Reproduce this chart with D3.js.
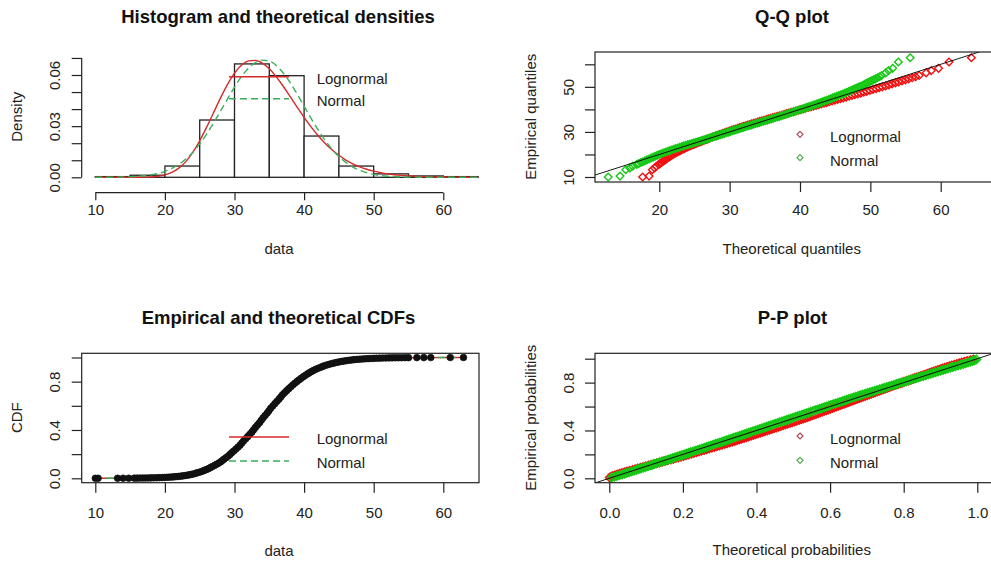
<!DOCTYPE html>
<html>
<head>
<meta charset="utf-8">
<script src="https://cdn.jsdelivr.net/npm/d3@7"></script>
<style>
  html, body { margin: 0; padding: 0; background: #fff; overflow: hidden; }
  svg { display: block; }
</style>
</head>
<body>
<svg id="chart" width="991" height="562"></svg>
<script>
// ---------------- data ----------------
const seriesNames = ["Lognormal", "Normal"];

// histogram of the sample (density scale)
const binEdges   = [10, 15, 20, 25, 30, 35, 40, 45, 50, 55, 60, 65];
const binDensity = [0.0004, 0.0012, 0.0066, 0.0336, 0.0665, 0.0596, 0.0242, 0.0066, 0.0020, 0.0008, 0.0004];

// fitted densities evaluated on a 1-unit grid
const densX = [10,11,12,13,14,15,16,17,18,19,20,21,22,23,24,25,26,27,28,29,30,31,32,33,34,35,36,37,
               38,39,40,41,42,43,44,45,46,47,48,49,50,51,52,53,54,55,56,57,58,59,60,61,62,63,64,65];
const densLnorm = [0,0,0,0,0,0,0,0.0001,0.0002,0.0006,0.0014,0.0029,0.0054,0.0092,0.0146,0.0214,0.0294,
                   0.0380,0.0466,0.0545,0.0611,0.0657,0.0683,0.0686,0.0670,0.0636,0.0589,0.0534,0.0473,
                   0.0412,0.0352,0.0296,0.0245,0.0200,0.0162,0.0129,0.0101,0.0079,0.0061,0.0047,0.0036,
                   0.0027,0.0020,0.0015,0.0011,0.0008,0.0006,0.0004,0.0003,0.0002,0.0002,0.0001,0.0001,
                   0.0001,0,0];
const densNorm = [0,0,0,0.0001,0.0002,0.0003,0.0005,0.0009,0.0014,0.0022,0.0034,0.0052,0.0075,0.0107,
                  0.0146,0.0196,0.0253,0.0319,0.0389,0.0460,0.0529,0.0591,0.0640,0.0673,0.0687,0.0681,
                  0.0656,0.0612,0.0555,0.0488,0.0417,0.0346,0.0279,0.0218,0.0165,0.0122,0.0087,0.0060,
                  0.0041,0.0027,0.0017,0.0010,0.0006,0.0004,0.0002,0.0001,0.0001,0,0,0,0,0,0,0,0,0];

// sorted sample (empirical quantiles) with their plotting probabilities
const empQ = [10.0,10.4,13.2,14.0,14.8,15.6,
  16.0,16.4,16.8,17.2,17.6,18.0,18.4,18.8,19.2,19.6,19.95,20.3,20.65,21.0,21.3,21.6,21.95,22.3,22.6,22.9,
  23.2,23.5,23.8,24.1,24.35,24.6,24.9,25.2,25.45,25.7,26.0,26.3,26.55,26.8,27.1,27.4,27.7,28.0,28.25,28.5,
  28.8,29.1,29.35,29.6,29.9,30.2,30.5,30.8,31.05,31.3,31.6,31.9,32.2,32.5,32.75,33.0,33.3,33.6,33.85,34.1,
  34.4,34.7,34.95,35.2,35.5,35.8,36.1,36.4,36.65,36.9,37.2,37.5,37.8,38.1,38.4,38.7,39.0,39.3,39.6,39.9,
  40.2,40.5,40.8,41.1,41.4,41.7,42.05,42.4,42.7,43.0,43.35,43.7,44.05,44.4,44.75,45.1,45.45,45.8,46.15,46.5,
  46.85,47.2,47.6,48.0,48.4,48.8,49.2,49.6,50.0,50.4,50.85,51.3,51.75,52.2,52.65,53.1,53.55,54.0,54.5,
  55.0,56.2,57.2,58.2,61.0,62.9];
const empProb = [0.0001,0.0003,0.0005,0.0008,0.0010,0.0013,
  0.0016,0.0019,0.0022,0.0026,0.0030,0.0035,0.0040,0.0047,0.0054,0.0062,0.0071,0.0082,0.0094,0.0107,
  0.0122,0.0139,0.0158,0.0179,0.0202,0.0228,0.0256,0.0287,0.0322,0.0359,0.0401,0.0446,0.0495,0.0548,
  0.0606,0.0668,0.0735,0.0808,0.0885,0.0968,0.1056,0.1151,0.1251,0.1357,0.1469,0.1587,0.1711,0.1841,
  0.1977,0.2119,0.2266,0.2420,0.2578,0.2743,0.2912,0.3085,0.3264,0.3446,0.3632,0.3821,0.4013,0.4207,
  0.4404,0.4602,0.4801,0.5000,
  0.5199,0.5398,0.5596,0.5793,0.5987,0.6179,0.6368,0.6554,0.6736,0.6915,0.7088,0.7257,0.7422,0.7580,
  0.7734,0.7881,0.8023,0.8159,0.8289,0.8413,0.8531,0.8643,0.8749,0.8849,0.8944,0.9032,0.9115,0.9192,
  0.9265,0.9332,0.9394,0.9452,0.9505,0.9554,0.9599,0.9641,0.9678,0.9713,0.9744,0.9772,0.9798,0.9821,
  0.9842,0.9861,0.9878,0.9893,0.9906,0.9918,0.9929,0.9938,0.9946,0.9953,0.9960,0.9965,0.9970,0.9974,
  0.9978,0.9981,0.9984,
  0.9987,0.9990,0.9992,0.9995,0.9997,0.9999];

// theoretical quantiles matching each empirical quantile
const qqLnorm = [17.63,18.55,19.01,19.34,19.58,19.93,
  20.10,20.28,20.46,20.64,20.82,21.00,21.18,21.37,21.56,21.75,21.94,22.13,22.32,22.52,22.72,22.92,23.12,
  23.33,23.53,23.74,23.95,24.16,24.37,24.58,24.80,25.02,25.24,25.46,25.68,25.91,26.14,26.37,26.60,26.83,
  27.06,27.30,27.54,27.79,28.03,28.28,28.53,28.78,29.03,29.28,29.54,29.80,30.06,30.33,30.59,30.86,31.13,
  31.41,31.68,31.96,32.24,32.53,32.81,33.10,33.39,33.68,33.98,34.28,34.58,34.88,35.19,35.50,35.81,36.13,
  36.44,36.76,37.08,37.41,37.74,38.07,38.41,38.75,39.09,39.43,39.78,40.13,40.48,40.83,41.19,41.55,41.92,
  42.29,42.66,43.03,43.41,43.79,44.18,44.57,44.96,45.35,45.75,46.16,46.56,46.97,47.38,47.80,48.22,48.64,
  49.07,49.50,49.94,50.38,50.82,51.26,51.71,52.17,52.63,53.09,53.56,54.03,54.50,54.98,55.46,55.95,56.44,
  56.94,57.94,58.66,59.70,61.18,64.36];
const qqNorm = [12.74,14.42,15.23,15.81,16.22,16.80,
  17.09,17.38,17.67,17.96,18.25,18.54,18.83,19.12,19.41,19.70,19.99,20.28,20.57,20.86,21.15,21.44,21.73,
  22.02,22.31,22.60,22.89,23.18,23.47,23.76,24.05,24.34,24.63,24.92,25.21,25.50,25.79,26.08,26.37,26.66,
  26.95,27.24,27.53,27.82,28.11,28.40,28.69,28.98,29.27,29.56,29.85,30.14,30.43,30.72,31.01,31.30,31.59,
  31.88,32.17,32.46,32.75,33.04,33.33,33.62,33.91,34.20,34.49,34.78,35.07,35.36,35.65,35.94,36.23,36.52,
  36.81,37.10,37.39,37.68,37.97,38.26,38.55,38.84,39.13,39.42,39.71,40.00,40.29,40.58,40.87,41.16,41.45,
  41.74,42.03,42.32,42.61,42.90,43.19,43.48,43.77,44.06,44.35,44.64,44.93,45.22,45.51,45.80,46.09,46.38,
  46.67,46.96,47.25,47.54,47.83,48.12,48.41,48.70,48.99,49.28,49.57,49.86,50.15,50.44,50.73,51.02,51.31,
  51.60,52.18,52.59,53.17,53.98,55.66];

// fitted CDFs on a 2-unit grid
const cdfX     = [10,12,14,16,18,20,22,24,26,28,30,32,34,36,38,40,42,44,46,48,50,52,54,56,58,60,62,63];
const cdfLnorm = [0,0,0,0,0.0002,0.0014,0.0075,0.0264,0.0696,0.1455,0.2540,0.3848,0.5215,0.6480,0.7546,
                  0.8370,0.8964,0.9366,0.9625,0.9785,0.9880,0.9934,0.9965,0.9982,0.9990,0.9995,0.9998,0.9999];
const cdfNorm  = [0,0.0001,0.0003,0.0008,0.0026,0.0071,0.0179,0.0392,0.0793,0.1423,0.2345,0.3523,0.4864,
                  0.6217,0.7438,0.8413,0.9106,0.9545,0.9789,0.9913,0.9967,0.9989,0.9997,0.9999,1,1,1,1];

// P-P plot: empirical probabilities against fitted probabilities
const ppEmp = [0.0063,0.0125,0.0188,0.0250,0.0313,0.0375,0.0438,0.0500,0.0563,0.0625,0.0688,0.0750,
  0.0813,0.0875,0.0938,0.1000,0.1063,0.1125,0.1188,0.1250,0.1313,0.1375,0.1438,0.1500,0.1563,0.1625,
  0.1688,0.1750,0.1813,0.1875,0.1938,0.2000,0.2063,0.2125,0.2188,0.2250,0.2313,0.2375,0.2438,0.2500,
  0.2563,0.2625,0.2688,0.2750,0.2813,0.2875,0.2938,0.3000,0.3063,0.3125,0.3188,0.3250,0.3313,0.3375,
  0.3438,0.3500,0.3563,0.3625,0.3688,0.3750,0.3813,0.3875,0.3938,0.4000,0.4063,0.4125,0.4188,0.4250,
  0.4313,0.4375,0.4438,0.4500,0.4563,0.4625,0.4688,0.4750,0.4813,0.4875,0.4938,0.5000,0.5063,0.5125,
  0.5188,0.5250,0.5313,0.5375,0.5438,0.5500,0.5563,0.5625,0.5688,0.5750,0.5813,0.5875,0.5938,0.6000,
  0.6063,0.6125,0.6188,0.6250,0.6313,0.6375,0.6438,0.6500,0.6563,0.6625,0.6688,0.6750,0.6813,0.6875,
  0.6938,0.7000,0.7063,0.7125,0.7188,0.7250,0.7313,0.7375,0.7438,0.7500,0.7563,0.7625,0.7688,0.7750,
  0.7813,0.7875,0.7938,0.8000,0.8063,0.8125,0.8188,0.8250,0.8313,0.8375,0.8438,0.8500,0.8563,0.8625,
  0.8688,0.8750,0.8813,0.8875,0.8938,0.9000,0.9063,0.9125,0.9188,0.9250,0.9313,0.9375,0.9438,0.9500,
  0.9563,0.9625,0.9688,0.9750,0.9813,0.9875,0.9938];
const ppLnorm = [0.0010,0.0053,0.0095,0.0155,0.0215,0.0279,0.0343,0.0411,0.0479,0.0555,0.0631,0.0702,
  0.0772,0.0844,0.0916,0.0990,0.1063,0.1138,0.1212,0.1287,0.1362,0.1438,0.1513,0.1591,0.1668,0.1738,
  0.1808,0.1878,0.1948,0.2018,0.2087,0.2157,0.2227,0.2297,0.2366,0.2436,0.2506,0.2576,0.2646,0.2716,
  0.2785,0.2855,0.2925,0.2995,0.3064,0.3133,0.3202,0.3272,0.3341,0.3406,0.3471,0.3535,0.3598,0.3661,
  0.3724,0.3788,0.3851,0.3914,0.3977,0.4040,0.4102,0.4165,0.4228,0.4290,0.4352,0.4415,0.4477,0.4539,
  0.4601,0.4663,0.4725,0.4787,0.4849,0.4911,0.4972,0.5034,0.5095,0.5157,0.5218,0.5277,0.5335,0.5392,
  0.5448,0.5505,0.5561,0.5617,0.5672,0.5728,0.5784,0.5840,0.5896,0.5952,0.6008,0.6064,0.6119,0.6175,
  0.6230,0.6286,0.6342,0.6398,0.6453,0.6509,0.6564,0.6620,0.6675,0.6731,0.6786,0.6842,0.6897,0.6953,
  0.7009,0.7064,0.7119,0.7175,0.7230,0.7286,0.7341,0.7397,0.7452,0.7508,0.7564,0.7620,0.7676,0.7732,
  0.7788,0.7845,0.7901,0.7958,0.8014,0.8071,0.8128,0.8186,0.8243,0.8300,0.8357,0.8413,0.8469,0.8526,
  0.8582,0.8640,0.8697,0.8755,0.8813,0.8873,0.8932,0.8992,0.9052,0.9115,0.9177,0.9243,0.9308,0.9377,
  0.9445,0.9509,0.9573,0.9649,0.9724,0.9809,0.9893];
const ppNorm = [0.0060,0.0134,0.0207,0.0277,0.0347,0.0412,0.0477,0.0541,0.0604,0.0668,0.0732,0.0795,
  0.0858,0.0921,0.0984,0.1047,0.1109,0.1172,0.1234,0.1296,0.1357,0.1419,0.1481,0.1543,0.1604,0.1666,
  0.1727,0.1788,0.1849,0.1911,0.1972,0.2033,0.2094,0.2155,0.2215,0.2276,0.2337,0.2398,0.2458,0.2519,
  0.2580,0.2640,0.2700,0.2761,0.2822,0.2883,0.2943,0.3004,0.3065,0.3125,0.3184,0.3245,0.3305,0.3365,
  0.3425,0.3486,0.3546,0.3606,0.3666,0.3727,0.3787,0.3847,0.3907,0.3968,0.4028,0.4088,0.4148,0.4209,
  0.4269,0.4329,0.4389,0.4450,0.4510,0.4571,0.4631,0.4691,0.4751,0.4812,0.4872,0.4933,0.4993,0.5053,
  0.5113,0.5174,0.5234,0.5295,0.5355,0.5416,0.5476,0.5537,0.5597,0.5658,0.5719,0.5780,0.5840,0.5901,
  0.5962,0.6023,0.6083,0.6144,0.6205,0.6267,0.6328,0.6389,0.6450,0.6511,0.6572,0.6634,0.6695,0.6757,
  0.6819,0.6885,0.6951,0.7017,0.7082,0.7148,0.7213,0.7279,0.7345,0.7411,0.7477,0.7543,0.7608,0.7674,
  0.7740,0.7806,0.7872,0.7938,0.8003,0.8069,0.8135,0.8201,0.8266,0.8332,0.8398,0.8466,0.8534,0.8602,
  0.8669,0.8736,0.8803,0.8870,0.8937,0.9004,0.9070,0.9137,0.9203,0.9269,0.9334,0.9406,0.9477,0.9548,
  0.9619,0.9683,0.9747,0.9809,0.9871,0.9922,0.9973];

// axis ticks
const dataTicks   = [10, 20, 30, 40, 50, 60];
const densTicks   = [0, 0.01, 0.02, 0.03, 0.04, 0.05, 0.06, 0.07];
const densLabels  = [0, 0.03, 0.06];
const qqXTicks    = [20, 30, 40, 50, 60];
const qqYTicks    = [10, 20, 30, 40, 50, 60];
const qqYLabels   = [10, 30, 50];
const probTicks   = [0, 0.2, 0.4, 0.6, 0.8, 1];
const probLabels  = [0, 0.4, 0.8];

// ---------------- styling ----------------
const FONT = '"Liberation Sans", Arial, Helvetica, sans-serif';
const INK = "#222";
const RED_PT = "#f01010", GREEN_PT = "#14c814";
const RED_KEY = "#b44a5a", GREEN_KEY = "#4fae4f";
const RED_LN = "#d42a2a", GREEN_LN = "#3aae5a";

const svg = d3.select("#chart").attr("font-family", FONT);

function title(txt, x, y) {
  svg.append("text").attr("x", x).attr("y", y).attr("text-anchor", "middle")
    .attr("font-size", 18.5).attr("font-weight", "bold").attr("fill", "#111").text(txt);
}
function xTitle(txt, x, y) {
  svg.append("text").attr("x", x).attr("y", y).attr("text-anchor", "middle")
    .attr("dominant-baseline", "central").attr("font-size", 15).attr("fill", INK).text(txt);
}
function yTitle(txt, x, y) {
  svg.append("text").attr("transform", `translate(${x},${y}) rotate(-90)`).attr("text-anchor", "middle")
    .attr("dominant-baseline", "central").attr("font-size", 15).attr("fill", INK).text(txt);
}
function bottomAxis(scale, ticks, labels, fmt, y0, len, labelY, withLine) {
  const g = svg.append("g").attr("transform", `translate(0,${y0})`)
    .call(d3.axisBottom(scale).tickValues(ticks).tickSize(len).tickSizeOuter(0)
      .tickFormat(d => labels.some(v => Math.abs(v - d) < 1e-9) ? fmt(d) : ""));
  g.attr("font-family", FONT).attr("font-size", 15).attr("color", INK);
  g.select(".domain").remove();
  if (withLine) {
    g.append("line").attr("x1", scale(ticks[0])).attr("x2", scale(ticks[ticks.length - 1]))
      .attr("stroke", INK).attr("stroke-width", 1.2);
  }
  g.selectAll(".tick line").attr("stroke-width", 1.2);
  g.selectAll(".tick text").attr("y", labelY - y0).attr("dy", "0.35em");
}
function leftAxis(scale, ticks, labels, fmt, x0, len, labelX, withLine) {
  const g = svg.append("g").attr("transform", `translate(${x0},0)`)
    .call(d3.axisLeft(scale).tickValues(ticks).tickSize(len).tickSizeOuter(0)
      .tickFormat(d => labels.some(v => Math.abs(v - d) < 1e-9) ? fmt(d) : ""));
  g.attr("font-family", FONT).attr("font-size", 15).attr("color", INK);
  g.select(".domain").remove();
  if (withLine) {
    g.append("line").attr("y1", scale(ticks[0])).attr("y2", scale(ticks[ticks.length - 1]))
      .attr("stroke", INK).attr("stroke-width", 1.2);
  }
  g.selectAll(".tick line").attr("stroke-width", 1.2);
  g.selectAll(".tick text").attr("x", null).attr("dy", null)
    .attr("transform", `translate(${labelX - x0},0) rotate(-90)`)
    .attr("text-anchor", "middle").attr("dominant-baseline", "central");
}
function frame(x0, y0, x1, y1) {
  svg.append("rect").attr("x", x0).attr("y", y0).attr("width", x1 - x0).attr("height", y1 - y0)
    .attr("fill", "none").attr("stroke", INK).attr("stroke-width", 1.2);
}
function clip(id, x0, y0, x1, y1) {
  svg.append("clipPath").attr("id", id).append("rect")
    .attr("x", x0).attr("y", y0).attr("width", x1 - x0).attr("height", y1 - y0);
  return `url(#${id})`;
}
const diamond = r => `M0,${-r}L${r},0L0,${r}L${-r},0Z`;

function lineLegend(x1, x2, xt, rows) {
  rows.forEach(r => {
    svg.append("line").attr("x1", x1).attr("x2", x2).attr("y1", r.y).attr("y2", r.y)
      .attr("stroke", r.color).attr("stroke-width", 1.4).attr("stroke-dasharray", r.dash || null);
    svg.append("text").attr("x", xt).attr("y", r.y + 1.5).attr("dominant-baseline", "central")
      .attr("font-size", 15).attr("fill", INK).text(r.label);
  });
}
function pointLegend(xs, xt, rows) {
  rows.forEach(r => {
    svg.append("path").attr("d", diamond(3)).attr("transform", `translate(${xs},${r.y})`)
      .attr("fill", "none").attr("stroke", r.color).attr("stroke-width", 1.2);
    svg.append("text").attr("x", xt).attr("y", r.y + 2.5).attr("dominant-baseline", "central")
      .attr("font-size", 15).attr("fill", INK).text(r.label);
  });
}

// ---------------- panel 1: histogram and densities ----------------
{
  const x = d3.scaleLinear().domain([10, 60]).range([95.3, 443.3]);
  const y = d3.scaleLinear().domain([0, 0.06]).range([177.3, 75]);

  svg.append("g").selectAll("rect").data(binDensity).join("rect")
    .attr("x", (d, i) => x(binEdges[i])).attr("width", (d, i) => x(binEdges[i + 1]) - x(binEdges[i]))
    .attr("y", d => y(d)).attr("height", d => y(0) - y(d))
    .attr("fill", "#fff").attr("stroke", INK).attr("stroke-width", 1.3);

  const line = d3.line().x(d => x(d[0])).y(d => y(d[1])).curve(d3.curveMonotoneX);
  svg.append("path").attr("d", line(densX.map((v, i) => [v, densLnorm[i]])))
    .attr("fill", "none").attr("stroke", RED_LN).attr("stroke-width", 1.4);
  svg.append("path").attr("d", line(densX.map((v, i) => [v, densNorm[i]])))
    .attr("fill", "none").attr("stroke", GREEN_LN).attr("stroke-width", 1.4).attr("stroke-dasharray", "7,4");

  bottomAxis(x, dataTicks, dataTicks, d3.format("d"), 192.7, 7.5, 210, true);
  leftAxis(y, densTicks, densLabels, d3.format(".2f"), 81.7, 10, 55, true);

  lineLegend(229, 289, 316.7, [
    { y: 76.7, color: RED_LN, label: seriesNames[0] },
    { y: 98.7, color: GREEN_LN, label: seriesNames[1], dash: "7,4" }
  ]);
  title("Histogram and theoretical densities", 278, 23.3);
  xTitle("data", 279, 248.3);
  yTitle("Density", 16.7, 116.7);
}

// ---------------- panel 2: Q-Q plot ----------------
{
  const x = d3.scaleLinear().domain([20, 60]).range([659.3, 940.7]);
  const y = d3.scaleLinear().domain([10, 60]).range([177, 64.3]);
  const box = [595, 52, 992, 182];
  const cp = clip("qqclip", ...box);
  const g = svg.append("g").attr("clip-path", cp);

  const xs = x.invert(box[0]), xe = x.invert(box[2]);

  [[qqLnorm, RED_PT], [qqNorm, GREEN_PT]].forEach(([q, col]) => {
    g.append("g").selectAll("path").data(empQ).join("path")
      .attr("d", diamond(3.8)).attr("transform", (d, i) => `translate(${x(q[i])},${y(d)})`)
      .attr("fill", "none").attr("stroke", col).attr("stroke-width", 1.4);
  });
  // identity line drawn over the points
  g.append("line").attr("x1", x(xs)).attr("y1", y(xs)).attr("x2", x(xe)).attr("y2", y(xe))
    .attr("stroke", "#000").attr("stroke-width", 0.9);

  frame(...box);
  bottomAxis(x, qqXTicks, qqXTicks, d3.format("d"), 182, 10, 210, false);
  leftAxis(y, qqYTicks, qqYLabels, d3.format("d"), 595, 10, 568.3, false);

  pointLegend(800, 830, [
    { y: 134.3, color: RED_KEY, label: seriesNames[0] },
    { y: 157.7, color: GREEN_KEY, label: seriesNames[1] }
  ]);
  title("Q-Q plot", 792, 23.3);
  xTitle("Theoretical quantiles", 791.7, 248.3);
  yTitle("Empirical quantiles", 530, 116.7);
}

// ---------------- panel 3: empirical and theoretical CDFs ----------------
{
  const x = d3.scaleLinear().domain([10, 60]).range([95.3, 443.3]);
  const y = d3.scaleLinear().domain([0, 1]).range([478.3, 357.5]);
  const box = [81.7, 353.3, 479, 482.7];
  const cp = clip("cdfclip", ...box);
  const g = svg.append("g").attr("clip-path", cp);

  const line = d3.line().x(d => x(d[0])).y(d => y(d[1])).curve(d3.curveMonotoneX);
  g.append("path").attr("d", line(cdfX.map((v, i) => [v, cdfLnorm[i]])))
    .attr("fill", "none").attr("stroke", RED_LN).attr("stroke-width", 1.4);
  g.append("path").attr("d", line(cdfX.map((v, i) => [v, cdfNorm[i]])))
    .attr("fill", "none").attr("stroke", GREEN_LN).attr("stroke-width", 1.4).attr("stroke-dasharray", "7,4");

  g.append("g").selectAll("circle").data(empQ).join("circle")
    .attr("cx", d => x(d)).attr("cy", (d, i) => y(empProb[i])).attr("r", 3.3)
    .attr("fill", "#111").attr("stroke", "#111").attr("stroke-width", 0.8);

  frame(...box);
  bottomAxis(x, dataTicks, dataTicks, d3.format("d"), 482.7, 10, 512.7, false);
  leftAxis(y, probTicks, probLabels, d3.format(".1f"), 81.7, 10, 55, false);

  lineLegend(229, 289, 316.7, [
    { y: 437, color: RED_LN, label: seriesNames[0] },
    { y: 461, color: GREEN_LN, label: seriesNames[1], dash: "7,4" }
  ]);
  title("Empirical and theoretical CDFs", 278.5, 323.7);
  xTitle("data", 279, 550.3);
  yTitle("CDF", 16.7, 417.7);
}

// ---------------- panel 4: P-P plot ----------------
{
  const x = d3.scaleLinear().domain([0, 1]).range([609.3, 977.3]);
  const y = d3.scaleLinear().domain([0, 1]).range([478.3, 358.7]);
  const box = [595, 353.3, 992, 482.7];
  const cp = clip("ppclip", ...box);
  const g = svg.append("g").attr("clip-path", cp);

  const xs = x.invert(box[0]), xe = x.invert(box[2]);
  [[ppLnorm, RED_PT], [ppNorm, GREEN_PT]].forEach(([p, col]) => {
    g.append("g").selectAll("path").data(ppEmp).join("path")
      .attr("d", diamond(4.2)).attr("transform", (d, i) => `translate(${x(p[i])},${y(d)})`)
      .attr("fill", "none").attr("stroke", col).attr("stroke-width", 1.5);
  });
  g.append("line").attr("x1", x(xs)).attr("y1", y(xs)).attr("x2", x(xe)).attr("y2", y(xe))
    .attr("stroke", "#000").attr("stroke-width", 0.9);

  frame(...box);
  bottomAxis(x, probTicks, probTicks, d3.format(".1f"), 482.7, 10, 512.7, false);
  leftAxis(y, probTicks, probLabels, d3.format(".1f"), 595, 10, 568.3, false);

  pointLegend(800, 830, [
    { y: 436, color: RED_KEY, label: seriesNames[0] },
    { y: 460.3, color: GREEN_KEY, label: seriesNames[1] }
  ]);
  title("P-P plot", 792.5, 323.7);
  xTitle("Theoretical probabilities", 791.7, 549.3);
  yTitle("Empirical probabilities", 530, 417.7);
}
</script>
</body>
</html>
